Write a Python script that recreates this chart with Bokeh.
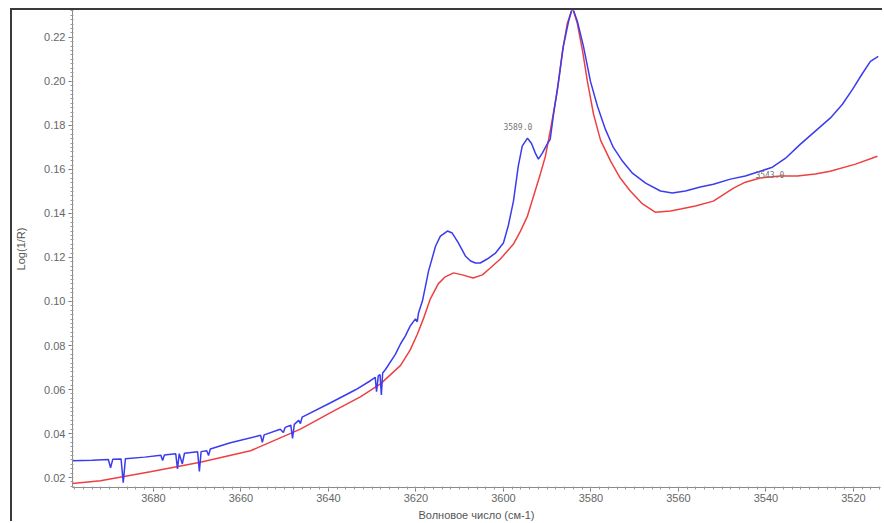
from bokeh.plotting import figure
from bokeh.models import Range1d, SingleIntervalTicker, NumeralTickFormatter, Label
from bokeh.embed import file_html
from bokeh.resources import INLINE

# ---- data ----
blue_wn = [3698.5, 3694.0, 3690.3, 3689.8, 3689.3, 3687.4, 3686.9, 3686.4, 3682.0, 3678.3,
           3677.9, 3677.5, 3674.9, 3674.5, 3674.1, 3673.4, 3672.9, 3669.9, 3669.5, 3669.1,
           3667.8, 3667.4, 3667.0, 3662.4, 3655.5, 3655.1, 3654.7, 3651.0, 3650.3, 3649.9,
           3648.6, 3648.2, 3647.8, 3646.8, 3646.4, 3646.0, 3639.5, 3633.8, 3630.4, 3629.3,
           3629.0, 3628.6, 3628.2, 3627.9, 3627.6, 3627.0, 3624.7, 3623.5, 3622.4, 3621.3,
           3620.1, 3619.7, 3619.4, 3618.5, 3617.1, 3615.5, 3614.4, 3612.8, 3611.7, 3610.3,
           3608.7, 3607.5, 3606.4, 3605.3, 3603.7, 3601.8, 3600.0, 3598.9, 3597.7, 3596.6,
           3595.7, 3594.5, 3593.6, 3592.7, 3592.0, 3591.1, 3590.0, 3589.3, 3588.6, 3587.4,
           3586.3, 3585.1, 3584.2, 3583.1, 3581.7, 3580.1, 3578.5, 3576.7, 3574.9, 3572.8,
           3570.5, 3567.5, 3564.1, 3561.4, 3558.4, 3555.0, 3552.0, 3548.1, 3544.7, 3541.3,
           3538.5, 3535.5, 3532.1, 3528.7, 3525.3, 3522.5, 3520.2, 3517.9, 3516.1, 3514.3]
blue_val = [0.0277, 0.0279, 0.0282, 0.0245, 0.0283, 0.0285, 0.0177, 0.0286, 0.0293, 0.0302,
            0.0278, 0.0303, 0.0308, 0.0240, 0.0309, 0.0262, 0.0311, 0.0317, 0.0228, 0.0318,
            0.0322, 0.0300, 0.0330, 0.0358, 0.0392, 0.0360, 0.0394, 0.0420, 0.0405, 0.0428,
            0.0438, 0.0378, 0.0442, 0.0460, 0.0445, 0.0475, 0.0540, 0.0599, 0.0640, 0.0655,
            0.0590, 0.0662, 0.0668, 0.0575, 0.0675, 0.0690, 0.0760, 0.0808, 0.0844, 0.0889,
            0.0921, 0.0908, 0.0948, 0.1003, 0.1139, 0.1252, 0.1297, 0.1320, 0.1311, 0.1266,
            0.1207, 0.1184, 0.1175, 0.1175, 0.1193, 0.1220, 0.1266, 0.1343, 0.1456, 0.1615,
            0.1706, 0.1742, 0.1719, 0.1674, 0.1647, 0.1674, 0.1715, 0.1737, 0.1842, 0.2000,
            0.2159, 0.2273, 0.2335, 0.2273, 0.2159, 0.2000, 0.1887, 0.1783, 0.1701, 0.1638,
            0.1583, 0.1538, 0.1502, 0.1493, 0.1502, 0.1520, 0.1533, 0.1556, 0.1570, 0.1592,
            0.1610, 0.1651, 0.1715, 0.1774, 0.1833, 0.1896, 0.1964, 0.2037, 0.2091, 0.2114]

red_wn = [3698.5, 3692.1, 3680.7, 3669.3, 3657.8, 3646.4, 3639.5, 3632.7, 3628.1, 3623.5,
          3621.3, 3619.7, 3618.3, 3616.7, 3614.9, 3613.3, 3611.4, 3609.4, 3606.9, 3604.8,
          3603.0, 3600.7, 3599.1, 3597.7, 3596.1, 3594.5, 3593.1, 3591.5, 3590.4, 3589.3,
          3587.7, 3586.5, 3585.4, 3584.2, 3583.1, 3581.9, 3580.8, 3579.4, 3577.8, 3575.5,
          3573.3, 3571.0, 3568.2, 3565.3, 3561.8, 3559.5, 3556.1, 3552.0, 3547.4, 3544.7,
          3541.3, 3536.7, 3532.8, 3528.7, 3525.3, 3519.5, 3514.5]
red_val = [0.0173, 0.0186, 0.0227, 0.0270, 0.0322, 0.0420, 0.0495, 0.0567, 0.0626, 0.0710,
           0.0780, 0.0850, 0.0921, 0.1012, 0.1080, 0.1112, 0.1130, 0.1121, 0.1107, 0.1121,
           0.1152, 0.1193, 0.1229, 0.1261, 0.1320, 0.1388, 0.1479, 0.1583, 0.1660, 0.1774,
           0.1955, 0.2137, 0.2263, 0.2335, 0.2263, 0.2137, 0.2000, 0.1851, 0.1733, 0.1638,
           0.1561, 0.1502, 0.1443, 0.1406, 0.1411, 0.1420, 0.1434, 0.1456, 0.1515, 0.1542,
           0.1561, 0.1570, 0.1570, 0.1579, 0.1592, 0.1624, 0.1660]

peak_labels = ["3589.0", "3543.0"]
peak_label_x = [3600.0, 3542.4]
peak_label_y = [0.1796, 0.1579]

x_title = "Волновое число (см-1)"
y_title = "Log(1/R)"

# ---- figure ----
p = figure(width=872, height=513, output_backend="svg", toolbar_location=None,
           x_range=Range1d(3698.5, 3513.8), y_range=Range1d(0.0155, 0.2322),
           min_border_left=60, min_border_right=4, min_border_top=0, min_border_bottom=36,
           background_fill_color="white", border_fill_color="white",
           styles={"margin-left": "10px", "margin-top": "8px",
                   "border-left": "2px solid #3a3a3a", "border-top": "2px solid #3a3a3a"})
p.outline_line_color = None
p.grid.visible = False

p.line(red_wn, red_val, line_color="#ee4040", line_width=1.5)
p.line(blue_wn, blue_val, line_color="#3b3bf0", line_width=1.5)

for t, lx, ly in zip(peak_labels, peak_label_x, peak_label_y):
    p.add_layout(Label(x=lx, y=ly, text=t, text_font="DejaVu Sans Mono", text_font_size="8px",
                       text_color="#777777", text_baseline="middle", text_align="left"))

p.xaxis.ticker = SingleIntervalTicker(interval=20, num_minor_ticks=10)
p.yaxis.ticker = SingleIntervalTicker(interval=0.02, num_minor_ticks=10)
p.yaxis.formatter = NumeralTickFormatter(format="0.00")

for ax in (p.xaxis[0], p.yaxis[0]):
    ax.axis_line_color = "#8a8a8a"
    ax.major_tick_line_color = "#777777"
    ax.minor_tick_line_color = "#999999"
    ax.major_tick_out = 4
    ax.major_tick_in = 0
    ax.minor_tick_out = 2
    ax.minor_tick_in = 1
    ax.major_label_text_font = "Liberation Sans"
    ax.major_label_text_font_size = "11px"
    ax.major_label_text_color = "#666666"
    ax.axis_label_text_font = "Liberation Sans"
    ax.axis_label_text_font_size = "11px"
    ax.axis_label_text_font_style = "normal"
    ax.axis_label_text_color = "#555555"

p.xaxis.axis_label = x_title
p.yaxis.axis_label = y_title
p.xaxis.major_label_standoff = 2
p.xaxis.axis_label_standoff = 4
p.yaxis.major_label_standoff = 3
p.yaxis.axis_label_standoff = 14

open("out.html", "w").write(file_html(p, INLINE))
